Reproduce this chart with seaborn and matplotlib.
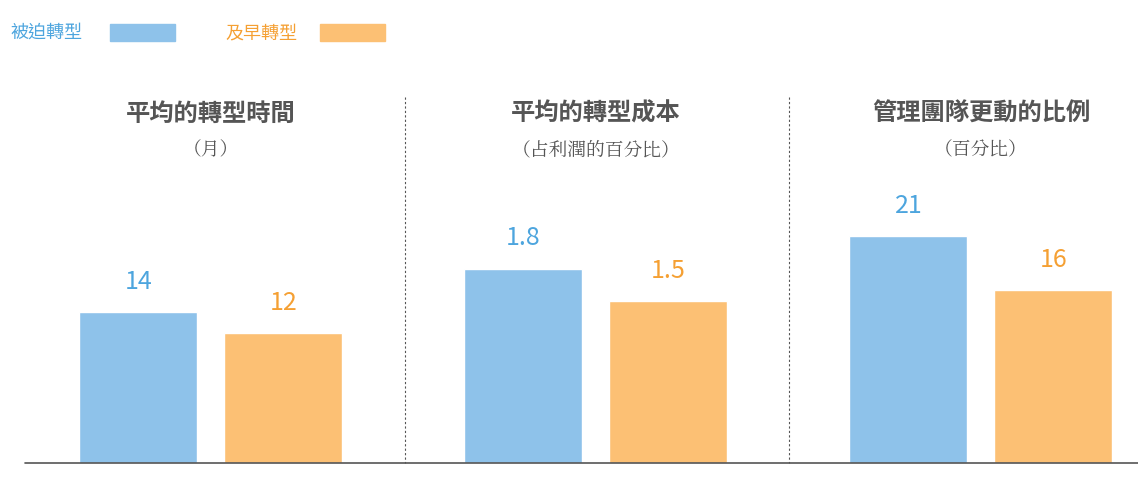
import matplotlib
matplotlib.use("Agg")
import matplotlib.pyplot as plt
import seaborn as sns
import pandas as pd
from matplotlib.patches import Rectangle

sns.set_style("white")
plt.rcParams['font.family'] = ['Noto Sans CJK TC', 'DejaVu Sans']

series = ["被迫轉型", "及早轉型"]
panel_titles = ["平均的轉型時間", "平均的轉型成本", "管理團隊更動的比例"]
panel_subtitles = ["（月）", "（占利潤的百分比）", "（百分比）"]
forced = [14, 1.8, 21]
early = [12, 1.5, 16]
labels_forced = ["14", "1.8", "21"]
labels_early = ["12", "1.5", "16"]
panel_scale = [1, 10, 1]

blue, orange = "#8EC2EA", "#FCC074"
blue_t, orange_t = "#4DA5DE", "#F5A033"

W, H = 1138, 483
fig = plt.figure(figsize=(W/100, H/100), dpi=100)
ax = fig.add_axes([0, 20/H, 1, 463/H])

panel_centers = [211, 596, 981]
xs, hs, cols, txt = [], [], [], []
for i in range(3):
    xs += [panel_centers[i]-72.5, panel_centers[i]+72.5]
    hs += [forced[i]*panel_scale[i], early[i]*panel_scale[i]]
    cols += [series[0], series[1]]
    txt += [labels_forced[i], labels_early[i]]
df = pd.DataFrame({"x": xs, "h": hs, "s": cols})
sns.barplot(data=df, x="x", y="h", hue="s", native_scale=True, width=118/145,
            palette=[blue, orange], dodge=False, legend=False, ax=ax, saturation=1)
ax.set_xlim(0, W)
ax.set_ylim(0, 463/10.8)
ax.axis("off")
ax.plot([25, W], [0, 0], color="#555555", lw=1.2, clip_on=False)

for x, h, t, c in zip(xs, hs, txt, cols):
    ax.text(x, h + 1.6, t, ha="center", va="bottom", fontsize=18,
            color=blue_t if c == series[0] else orange_t)

def fy(y): return 1 - y/H
for xsep in [405, 789]:
    fig.add_artist(plt.Line2D([xsep/W]*2, [fy(97), fy(463)], color="#555555",
                              lw=0.8, ls=(0, (2, 2))))
for i, c in enumerate(panel_centers):
    fig.text(c/W, fy(114), panel_titles[i], ha="center", va="center",
             fontsize=17.5, fontweight="bold", color="#555555")
    fig.text(c/W, fy(150), panel_subtitles[i], ha="center", va="center",
             fontsize=13.5, color="#555555", family=['Noto Serif CJK TC', 'Noto Sans CJK TC'])

fig.text(10/W, fy(33), series[0], ha="left", va="center", fontsize=13, color=blue_t)
fig.add_artist(Rectangle((110/W, fy(41)), 65/W, 17/H, color=blue, transform=fig.transFigure))
fig.text(225/W, fy(33), series[1], ha="left", va="center", fontsize=13, color=orange_t)
fig.add_artist(Rectangle((320/W, fy(41)), 65/W, 17/H, color=orange, transform=fig.transFigure))

fig.savefig("out.png", dpi=100)
